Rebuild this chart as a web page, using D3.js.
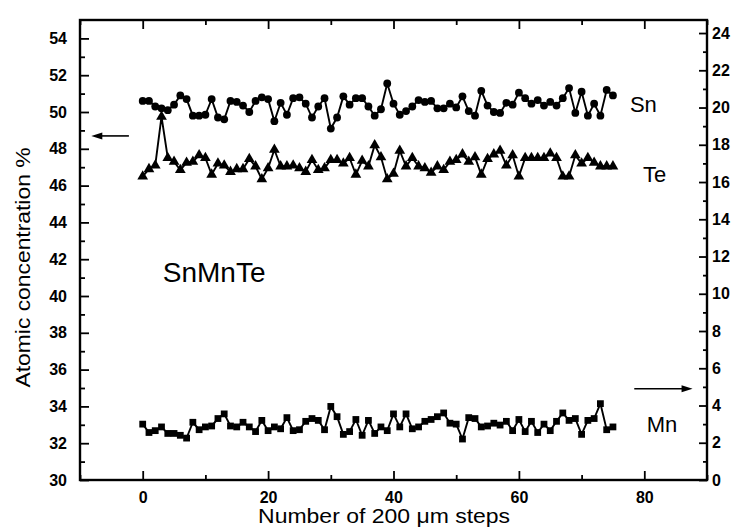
<!DOCTYPE html>
<html>
<head>
<meta charset="utf-8">
<script src="https://cdn.jsdelivr.net/npm/d3@7"></script>
<style>
  body { margin: 0; background: #fff; }
  svg { display: block; }
  text { font-family: "Liberation Sans", Arial, sans-serif; fill: #000; }
</style>
</head>
<body>
<svg class="chart" width="735" height="528"></svg>
<script>
// atomic concentration (%) at each 200 um step, index = step number
const sn = [50.6, 50.6, 50.3, 50.2, 50.1, 50.4, 50.9, 50.7, 49.8, 49.8, 49.85, 50.7, 49.7, 49.6, 50.6, 50.55, 50.35, 50.0, 50.6, 50.8,
    50.7, 49.5, 50.5, 49.85, 50.75, 50.8, 50.45, 49.7, 50.3, 50.75, 49.1, 49.7, 50.85, 50.4, 50.75, 50.75, 50.3, 49.8, 50.15, 51.55,
    50.45, 49.85, 50.05, 50.3, 50.65, 50.55, 50.6, 50.2, 50.2, 50.45, 50.25, 50.85, 50.05, 49.8, 51.15, 50.35, 50.0, 49.95, 50.5, 50.4,
    51.05, 50.75, 50.45, 50.65, 50.35, 50.55, 50.35, 50.75, 51.3, 49.95, 51.1, 49.8, 50.45, 49.8, 51.2, 50.9];
const te = [46.5, 46.9, 47.1, 49.75, 47.5, 47.3, 46.85, 47.25, 47.3, 47.65, 47.5, 46.6, 47.2, 47.1, 46.75, 46.9, 46.9, 47.45, 47.05, 46.35,
    46.95, 47.95, 47.05, 47.05, 47.1, 46.95, 46.75, 47.4, 46.85, 46.95, 47.4, 47.4, 47.2, 47.5, 46.6, 47.35, 47.05, 48.2, 47.55, 46.35,
    46.65, 47.9, 47.05, 47.5, 47.05, 46.95, 46.7, 47.05, 46.85, 47.3, 47.4, 47.7, 47.3, 47.55, 46.6, 47.45, 47.7, 47.9, 47.1, 47.65,
    46.5, 47.5, 47.5, 47.5, 47.5, 47.75, 47.5, 46.5, 46.5, 47.65, 47.2, 47.5, 47.25, 47.05, 47.05, 47.05];
// Mn is read on the right axis
const mn = [3.0, 2.55, 2.65, 2.85, 2.5, 2.5, 2.4, 2.25, 3.1, 2.7, 2.85, 2.9, 3.3, 3.55, 2.9, 2.85, 3.1, 2.85, 2.6, 3.2,
    2.65, 2.85, 2.75, 3.35, 2.65, 2.7, 3.15, 3.3, 3.2, 2.7, 3.95, 3.4, 2.45, 2.6, 3.25, 2.4, 3.2, 2.5, 2.85, 2.65,
    3.55, 2.85, 3.55, 2.75, 2.85, 3.15, 3.25, 3.4, 3.6, 3.05, 3.0, 2.2, 3.35, 3.3, 2.85, 2.9, 3.05, 2.95, 3.15, 2.65,
    3.25, 2.6, 3.15, 2.55, 3.0, 2.65, 3.15, 3.6, 3.2, 3.3, 2.45, 3.2, 3.3, 4.1, 2.7, 2.85];

const xTicks = [0, 20, 40, 60, 80];
const xMinor = [-10, 10, 30, 50, 70, 90];
const leftTicks = [30, 32, 34, 36, 38, 40, 42, 44, 46, 48, 50, 52, 54];
const rightTicks = [0, 2, 4, 6, 8, 10, 12, 14, 16, 18, 20, 22, 24];

const svg = d3.select(".chart");

const x = d3.scaleLinear().domain([-10, 90]).range([80, 707]);
const yL = d3.scaleLinear().domain([30, 55]).range([480, 20]);
const yR = d3.scaleLinear().domain([0, 24.7]).range([480, 20]);

const tickFont = g => g.attr("font-family", "Liberation Sans, Arial, sans-serif")
    .attr("font-size", 16).attr("font-weight", "bold")
    .call(g => g.select(".domain").remove())
    .call(g => g.selectAll("line").attr("stroke", "#000").attr("stroke-width", 1.8));

// bottom
svg.append("g").attr("transform", "translate(0,480)")
    .call(d3.axisBottom(x).tickValues(xTicks).tickSize(-9).tickPadding(12))
    .call(tickFont);
svg.append("g").attr("transform", "translate(0,480)")
    .call(d3.axisBottom(x).tickValues(xMinor).tickSize(-5).tickFormat(""))
    .call(tickFont);
// top
svg.append("g").attr("transform", "translate(0,20)")
    .call(d3.axisTop(x).tickValues(xTicks).tickSize(-9).tickFormat(""))
    .call(tickFont);
svg.append("g").attr("transform", "translate(0,20)")
    .call(d3.axisTop(x).tickValues(xMinor).tickSize(-5).tickFormat(""))
    .call(tickFont);
// left
svg.append("g").attr("transform", "translate(80,0)")
    .call(d3.axisLeft(yL).tickValues(leftTicks).tickSize(-9).tickPadding(13))
    .call(tickFont);
svg.append("g").attr("transform", "translate(80,0)")
    .call(d3.axisLeft(yL).tickValues(d3.range(31, 55, 2)).tickSize(-5).tickFormat(""))
    .call(tickFont);
// right
svg.append("g").attr("transform", "translate(707,0)")
    .call(d3.axisRight(yR).tickValues(rightTicks).tickSize(-8).tickPadding(5))
    .call(tickFont);
svg.append("g").attr("transform", "translate(707,0)")
    .call(d3.axisRight(yR).tickValues(d3.range(1, 24, 2)).tickSize(-4).tickFormat(""))
    .call(tickFont);

// frame
svg.append("rect")
    .attr("x", x(-10)).attr("y", yL(55))
    .attr("width", x(90) - x(-10)).attr("height", yL(30) - yL(55))
    .attr("fill", "none").attr("stroke", "#000").attr("stroke-width", 2.4);

// series
const series = [
    {name: "Sn", values: sn, y: yL, symbol: null},
    {name: "Te", values: te, y: yL, symbol: d3.symbolTriangle},
    {name: "Mn", values: mn, y: yR, symbol: d3.symbolSquare}
];

series.forEach(s => {
    const line = d3.line().x((d, i) => x(i)).y(d => s.y(d));
    svg.append("path")
        .attr("d", line(s.values))
        .attr("fill", "none").attr("stroke", "#000").attr("stroke-width", 1.9);
    if (s.symbol) {
        svg.append("g").selectAll("path")
            .data(s.values)
            .enter().append("path")
            .attr("transform", (d, i) => `translate(${x(i)},${s.y(d)})`)
            .attr("d", d3.symbol(s.symbol, s.name === "Te" ? 50 : 46))
            .attr("fill", "#000");
    } else {
        svg.append("g").selectAll("circle")
            .data(s.values)
            .enter().append("circle")
            .attr("cx", (d, i) => x(i))
            .attr("cy", d => s.y(d))
            .attr("r", 3.9)
            .attr("fill", "#000");
    }
});

// labels
svg.append("text").attr("x", x(77.7)).attr("y", yL(50)).attr("font-size", 22).text("Sn");
svg.append("text").attr("x", x(79.8)).attr("y", yL(46.2)).attr("font-size", 22).text("Te");
svg.append("text").attr("x", x(80.4)).attr("y", yR(2.6)).attr("font-size", 22).text("Mn");
svg.append("text").attr("x", x(3.2)).attr("y", yL(40.76)).attr("font-size", 28).text("SnMnTe");

// arrows pointing to the axis each group is read from
function arrow(x1, x2, y) {
    const dir = x2 > x1 ? 1 : -1;
    svg.append("line").attr("x1", x1).attr("x2", x2 - dir * 8).attr("y1", y).attr("y2", y)
        .attr("stroke", "#000").attr("stroke-width", 1.6);
    svg.append("path")
        .attr("d", `M${x2},${y}L${x2 - dir * 11},${y - 3.5}L${x2 - dir * 11},${y + 3.5}Z`)
        .attr("fill", "#000");
}
arrow(x(-2.2), x(-8.2), yL(48.7));
arrow(x(78.4), x(87.7), yR(4.9));

// axis titles
svg.append("text")
    .attr("x", x(38.5)).attr("y", 523)
    .attr("text-anchor", "middle").attr("font-size", 20)
    .attr("textLength", 252).attr("lengthAdjust", "spacingAndGlyphs")
    .text("Number of 200 μm steps");
svg.append("text")
    .attr("transform", `translate(30,${yL(41.55)}) rotate(-90)`)
    .attr("text-anchor", "middle").attr("font-size", 20)
    .attr("textLength", 240).attr("lengthAdjust", "spacingAndGlyphs")
    .text("Atomic concentration %");
</script>
</body>
</html>
